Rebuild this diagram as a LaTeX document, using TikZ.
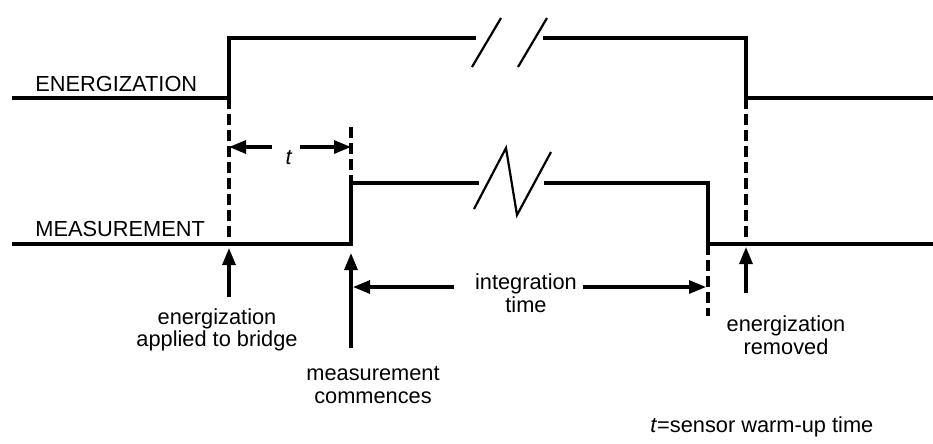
\documentclass[tikz,border=0pt]{standalone}
\usepackage{fontspec}
\setmainfont{Liberation Sans}
\usetikzlibrary{arrows.meta}
\begin{document}
\begin{tikzpicture}[x=0.2mm,y=-0.2mm,
  sig/.style={line width=0.64mm},
  brk/.style={line width=0.44mm},
  guide/.style={line width=0.68mm,dash pattern=on 2.1mm off 1.1mm},
  pointer/.style={line width=0.62mm,-{Triangle[length=3.4mm,width=2.6mm]}},
  lbl/.style={align=center,font=\fontsize{12.4}{12.8}\selectfont,inner sep=0pt}]
\useasboundingbox (0,0) rectangle (933,443);

% edges of the two signals
\coordinate (eon) at (229,98);
\coordinate (eoff) at (746,98);
\coordinate (mon) at (351,244);
\coordinate (moff) at (708,244);

% energization
\draw[sig] (12,98) -- (eon) -- (229,38) -- (476,38);
\draw[sig] (543,38) -- (746,38) -- (eoff) -- (933,98);
\draw[brk] (472,67) -- (501,18);
\draw[brk] (518,67) -- (547,18);

% measurement
\draw[sig] (12,244) -- (mon) -- (351,183) -- (479,183);
\draw[sig] (544,183) -- (708,183) -- (moff) -- (933,244);
\draw[brk] (474,209) -- (506,148) -- (517,215) -- (551,152);

% guides
\draw[guide] (eon) -- (229,242);
\draw[guide] (351,127) -- (mon);
\draw[guide] (eoff) -- (746,242);
\draw[guide] (moff) -- (708,316);

\node[lbl,anchor=west] (ename) at (35,84) {ENERGIZATION};
\node[lbl,anchor=west] (mname) at (35,229) {MEASUREMENT};

% warm-up time
\node[lbl,anchor=base] (t) at (289,164) {\textit{t}};
\coordinate (tl) at (272,147);
\coordinate (tr) at (300,147);
\draw[pointer] (tl) -- (229,147);
\draw[pointer] (tr) -- (351,147);

% integration time
\node[lbl] (integ) at (526,293) {integration\\time};
\coordinate (il) at (454,287);
\coordinate (ir) at (583,287);
\draw[pointer] (il) -- (353,287);
\draw[pointer] (ir) -- (706,287);

% events
\node[lbl] (ebridge) at (217,330) {energization\\applied to bridge};
\node[lbl] (mcomm) at (373,385) {measurement\\commences};
\node[lbl] (eremv) at (786,335) {energization\\removed};
\coordinate (a1) at (229,297);
\coordinate (a2) at (351,348);
\coordinate (a3) at (746,293);
\draw[pointer] (a1) -- (229,248);
\draw[pointer] (a2) -- (351,253);
\draw[pointer] (a3) -- (746,247);

\node[lbl,anchor=west] (note) at (650,427) {\textit{t}=sensor warm-up time};
\end{tikzpicture}
\end{document}
